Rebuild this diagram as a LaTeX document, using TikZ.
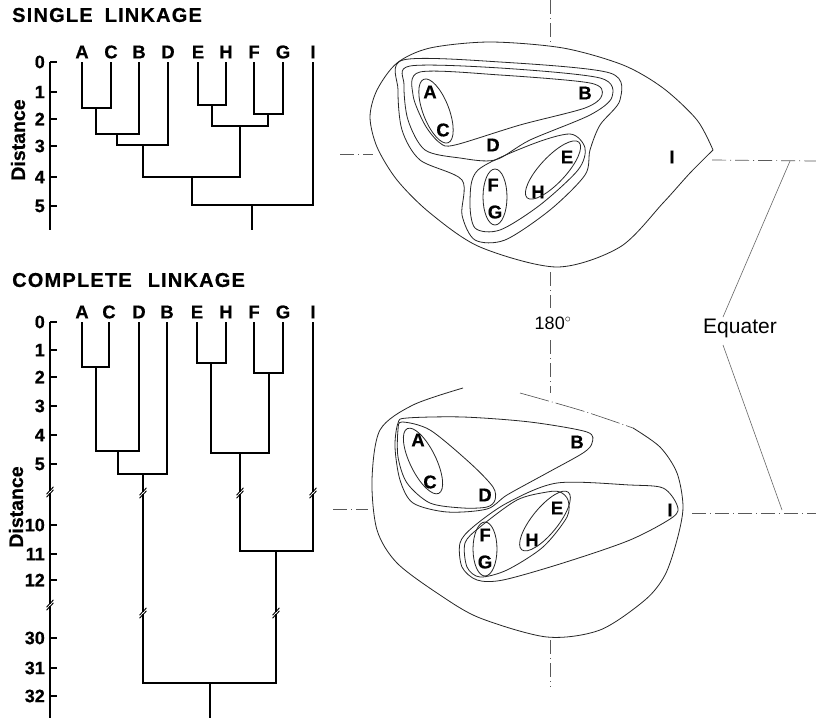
\documentclass[tikz,border=0pt]{standalone}
\usepackage{fontspec}
\setmainfont{Liberation Sans}[BoldFeatures={FakeBold=0.6}]
\newfontfamily\ttlfont[LetterSpace=6,BoldFeatures={FakeBold=0.6}]{Liberation Sans}
\newcommand{\brkmark}[2]{%
  \fill[white] (#1-1.5,#2-1.2) rectangle (#1+1.5,#2+1.2);
  \draw[line width=0.9pt] (#1-3.5,#2+2.2) -- (#1+3.5,#2-5.2);
  \draw[line width=0.9pt] (#1-3.5,#2+5.2) -- (#1+3.5,#2-2.2);
}
\begin{document}
\begin{tikzpicture}[x=1pt,y=-1pt,
  dend/.style={line width=1.15pt, black},
  cont/.style={line width=0.8pt, black!85},
  dd/.style={line width=0.7pt, black!65, dash pattern=on 14pt off 4pt on 1pt off 4pt},
  thinedge/.style={line width=0.6pt, black!70, dash pattern=on 30pt off 3pt on 1pt off 3pt},
  eqline/.style={line width=0.6pt, black!60},
  lbl/.style={font=\bfseries\fontsize{18.5}{18.5}\selectfont, inner sep=0pt},
  num/.style={font=\bfseries\fontsize{18}{18}\selectfont, anchor=east, inner sep=0pt},
  ttl/.style={font=\ttlfont\bfseries\fontsize{20}{20}\selectfont, anchor=west, inner sep=0pt},
  dist/.style={font=\bfseries\fontsize{19.5}{19.5}\selectfont, rotate=90, inner sep=0pt},
  cl/.style={font=\bfseries\fontsize{18.5}{18.5}\selectfont, inner sep=0pt},
]
\useasboundingbox (0,0) rectangle (816,718);
\fill[white] (0,0) rectangle (816,718);

% ================= SINGLE LINKAGE dendrogram =================
\node[ttl] (title1) at (12,15) {SINGLE\hspace{12pt}LINKAGE};
\foreach \n/\x in {A/82,C/111,B/139,D/168,E/198,H/226,F/254,G/283,I/313}{
  \node[lbl] (l1\n) at (\x,52) {\n};
  \coordinate (t1\n) at (\x,62);
}
\coordinate (ac1) at (96,108);
\coordinate (acb1) at (117,134);
\coordinate (acbd1) at (143,145);
\coordinate (eh1) at (212,105);
\coordinate (fg1) at (268,114);
\coordinate (ehfg1) at (240,126);
\coordinate (ah1) at (192,177);
\coordinate (all1) at (252,205);
\coordinate (end1) at (252,230);
\draw[dend] (t1A) |- (ac1) -| (t1C);
\draw[dend] (ac1) |- (acb1) -| (t1B);
\draw[dend] (acb1) |- (acbd1) -| (t1D);
\draw[dend] (t1E) |- (eh1) -| (t1H);
\draw[dend] (t1F) |- (fg1) -| (t1G);
\draw[dend] (eh1) |- (ehfg1) -| (fg1);
\draw[dend] (acbd1) |- (ah1) -| (ehfg1);
\draw[dend] (ah1) |- (all1) -| (t1I);
\draw[dend] (all1) -- (end1);
% axis
\coordinate (ax1t) at (50,62);
\coordinate (ax1b) at (50,230);
\draw[dend] (ax1t) -- (ax1b);
\foreach \v/\y in {0/62,1/92,2/119,3/146,4/177,5/206}{
  \draw[dend] (50,\y) -- (57,\y);
  \node[num] (n1\v) at (45,\y) {\v};
}
\node[dist] (dist1) at (18,140) {Distance};

% ================= COMPLETE LINKAGE dendrogram =================
\node[ttl] (title2) at (12,280) {COMPLETE\hspace{16pt}LINKAGE};
\foreach \n/\x in {A/82,C/109,D/139,B/167,E/197,H/226,F/254,G/283,I/313}{
  \node[lbl] (l2\n) at (\x,312) {\n};
  \coordinate (t2\n) at (\x,322);
}
\coordinate (ac2) at (96,367);
\coordinate (acd2) at (118,451);
\coordinate (acdb2) at (143,474);
\coordinate (eh2) at (211,363);
\coordinate (fg2) at (269,373);
\coordinate (ehfg2) at (240,453);
\coordinate (ehfgi2) at (276,551);
\coordinate (all2) at (210,683);
\coordinate (end2) at (210,718);
\draw[dend] (t2A) |- (ac2) -| (t2C);
\draw[dend] (ac2) |- (acd2) -| (t2D);
\draw[dend] (acd2) |- (acdb2) -| (t2B);
\draw[dend] (t2E) |- (eh2) -| (t2H);
\draw[dend] (t2F) |- (fg2) -| (t2G);
\draw[dend] (eh2) |- (ehfg2) -| (fg2);
\draw[dend] (ehfg2) |- (ehfgi2) -| (t2I);
\draw[dend] (acdb2) |- (all2) -| (ehfgi2);
\draw[dend] (all2) -- (end2);
% axis
\coordinate (ax2t) at (50,322);
\coordinate (ax2b) at (50,718);
\draw[dend] (ax2t) -- (ax2b);
\foreach \v/\y in {0/322,1/350,2/377,3/406,4/435,5/464,10/525,11/554,12/580,30/638,31/668,32/696}{
  \draw[dend] (50,\y) -- (57,\y);
  \node[num] (n2\v) at (45,\y) {\v};
}
\node[dist] (dist2) at (16,507) {Distance};
% break marks
\brkmark{50}{492}
\brkmark{50}{605}
\brkmark{143}{493}
\brkmark{240}{493}
\brkmark{313}{493}
\brkmark{143}{613}
\brkmark{276}{613}

% ================= reference lines =================
\draw[dd] (550,0) -- (550,45);
\draw[dd] (550,272) -- (550,308);
\node[font=\fontsize{18}{18}\selectfont, inner sep=0pt] (deg) at (553,323) {180$^{\circ}$};
\draw[dd] (550,340) -- (550,393);
\draw[dd] (550,640) -- (550,687);
\draw[dd] (340,154) -- (373,154);
\draw[dd] (712,160) -- (816,161);
\draw[dd] (333,509) -- (368,509);
\draw[dd] (692,513) -- (816,513);
\node[font=\fontsize{21}{21}\selectfont, inner sep=0pt] (eq) at (740,328) {Equater};
\coordinate (eq1) at (790,161);
\coordinate (eq1b) at (723,317);
\coordinate (eq2a) at (723,345);
\coordinate (eq2) at (782,510);
\draw[eqline] (eq1) -- (eq1b);
\draw[eqline] (eq2a) -- (eq2);

% ================= top cluster diagram (single linkage) =================
\node[cl] (cA1) at (430,92) {A};
\node[cl] (cB1) at (585,93) {B};
\node[cl] (cC1) at (443,130) {C};
\node[cl] (cD1) at (493,145) {D};
\node[cl] (cE1) at (567,157) {E};
\node[cl] (cI1) at (672,157) {I};
\node[cl] (cF1) at (493,185) {F};
\node[cl] (cH1) at (538,192) {H};
\node[cl] (cG1) at (495,212) {G};
\draw[cont] plot[smooth] coordinates {(713,150) (697,120) (663,88) (623,65) (563,48) (490,42) (430,48) (397,63) (377,90) (370,117) (377,147) (397,180) (430,213) (480,247) (557,267) (620,247) (663,203) (690,173) (713,150)};
\draw[cont, rotate around={-69:(436,111)}] (436,111) ellipse [x radius=34pt, y radius=13pt];
\draw[cont] (495,197) ellipse [x radius=12pt, y radius=28pt];
\draw[cont, rotate around={47:(553,170)}] (553,170) ellipse [x radius=38pt, y radius=13pt];
\draw[cont] plot[smooth cycle] coordinates {(420,72) (500,75) (590,83) (602,95) (585,108) (520,125) (455,145) (440,143) (425,125) (413,95)};
\draw[cont] plot[smooth cycle] coordinates {(410,66) (500,68) (600,78) (612,97) (590,115) (530,140) (495,160) (460,158) (425,150) (408,120) (404,85)};
\draw[cont] plot[smooth cycle] coordinates {(478,170) (530,145) (570,134) (585,148) (578,170) (540,205) (500,230) (475,228) (470,200)};
\draw[cont] plot[smooth cycle] coordinates {(403,60) (500,62) (610,73) (620,100) (600,125) (590,150) (585,175) (550,210) (505,240) (475,240) (462,215) (462,180) (420,160) (402,130) (398,90)};

% ================= bottom cluster diagram (complete linkage) =================
\node[cl] (cA2) at (418,440) {A};
\node[cl] (cB2) at (577,442) {B};
\node[cl] (cC2) at (430,482) {C};
\node[cl] (cD2) at (485,495) {D};
\node[cl] (cE2) at (557,508) {E};
\node[cl] (cI2) at (670,510) {I};
\node[cl] (cF2) at (485,535) {F};
\node[cl] (cH2) at (532,540) {H};
\node[cl] (cG2) at (485,562) {G};
\draw[thinedge] plot[smooth] coordinates {(520,393) (583,411) (633,428)};
\draw[cont] plot[smooth] coordinates {(633,428) (660,447) (677,473) (683,507) (677,540) (665,575) (645,600) (600,630) (547,637) (480,618) (440,595) (397,563) (377,530) (372,480) (380,430) (413,405) (463,388)};
\draw[cont, rotate around={-64:(423,461)}] (423,461) ellipse [x radius=36pt, y radius=13pt];
\draw[cont] (485,549) ellipse [x radius=12pt, y radius=27pt];
\draw[cont, rotate around={51:(545,521)}] (545,521) ellipse [x radius=37pt, y radius=13pt];
\draw[cont] plot[smooth cycle] coordinates {(402,422) (430,430) (470,463) (493,487) (495,500) (487,507) (463,508) (430,503) (407,483) (398,457) (398,430)};
\draw[cont] plot[smooth cycle] coordinates {(407,418) (463,417) (530,422) (587,432) (592,443) (583,453) (547,473) (507,495) (487,509) (447,512) (413,503) (400,480) (395,447) (398,423)};
\draw[cont] plot[smooth cycle] coordinates {(560,492) (568,500) (567,517) (543,547) (507,570) (480,577) (467,567) (465,543) (480,527) (517,500) (547,492)};
\draw[cont] plot[smooth cycle] coordinates {(557,483) (630,485) (663,488) (677,505) (673,517) (630,540) (563,563) (503,580) (477,580) (462,567) (460,543) (473,527) (507,503)};
\end{tikzpicture}
\end{document}
